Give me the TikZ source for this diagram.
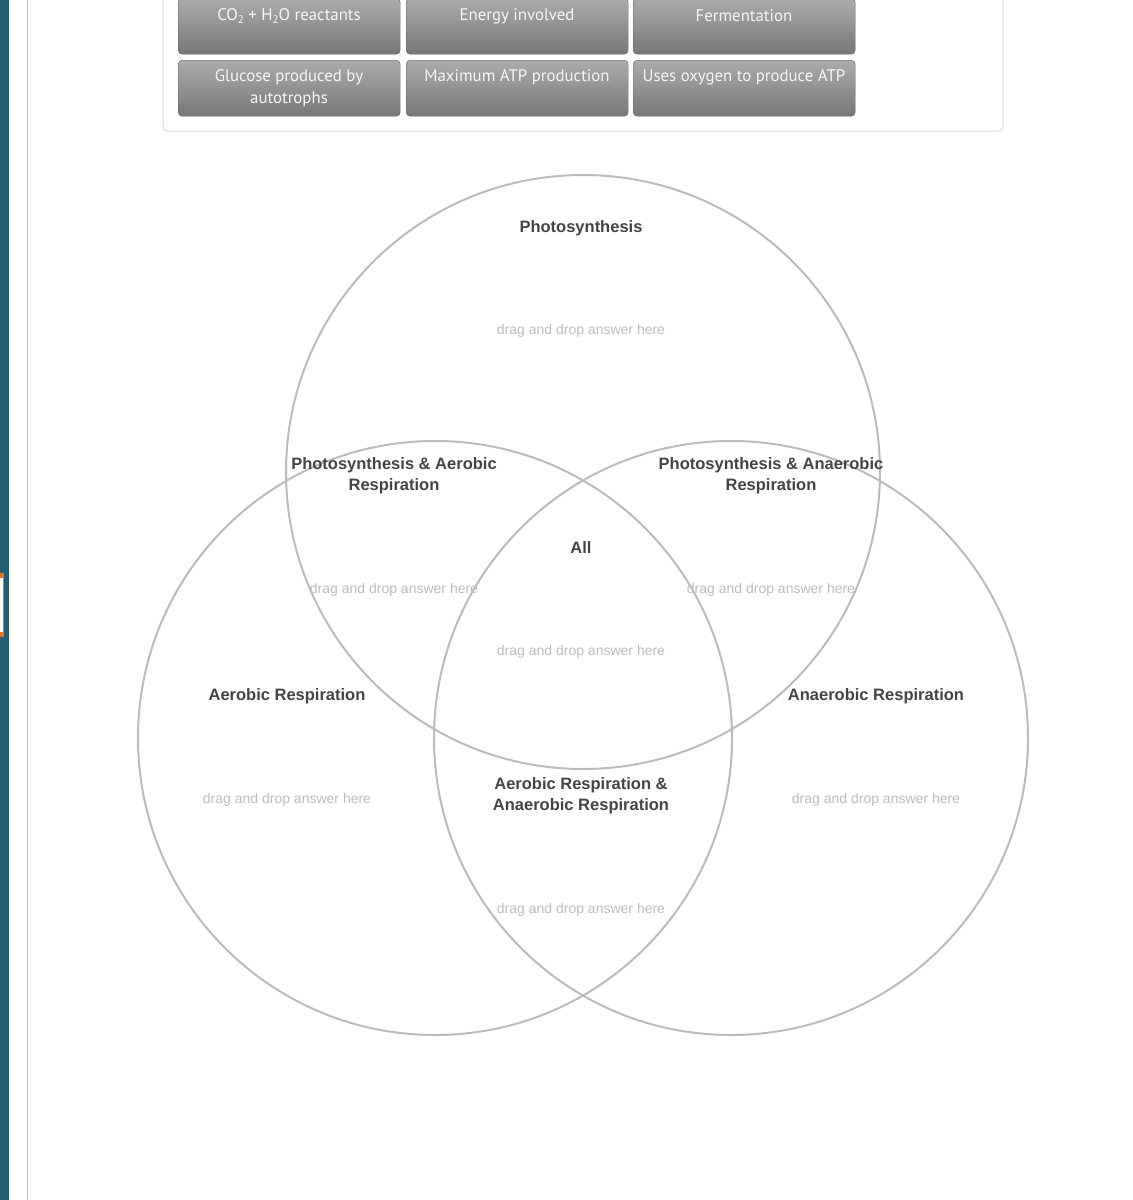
\documentclass[tikz,border=0pt]{standalone}
\usepackage{fontspec}
\setmainfont{Liberation Sans}
\newfontfamily\btnfont{PT Sans}
\newcommand{\mysub}[1]{\raisebox{-2.8pt}{\fontsize{11}{11}\selectfont #1}}
\definecolor{teal}{HTML}{255F6E}
\definecolor{orng}{HTML}{E8732A}
\definecolor{ring}{HTML}{BBBBBB}
\definecolor{lab}{HTML}{444444}
\definecolor{hint}{HTML}{BDBDBD}
\definecolor{btntop}{HTML}{ABABAB}
\definecolor{btnbot}{HTML}{777777}
\tikzset{
  venn/.style={circle, draw=ring, line width=2pt, minimum size=594pt, inner sep=0pt},
  title/.style={font=\fontsize{16.5}{21}\selectfont\bfseries, text=lab, align=center, inner sep=0pt},
  drop/.style={font=\fontsize{14}{16}\selectfont, text=hint, inner sep=0pt},
  btn/.style={rectangle, rounded corners=4pt, top color=btntop, bottom color=btnbot, draw=btnbot!80!black, line width=0.4pt, minimum width=222pt, minimum height=56pt, inner sep=0pt, anchor=north west},
  btntext/.style={font=\btnfont\fontsize{16.8}{22}\selectfont, text=white!94!gray, align=center, inner sep=0pt}
}
\begin{document}
\begin{tikzpicture}[x=1pt,y=-1pt]
\useasboundingbox (0,0) rectangle (1133,1200);
\fill[white] (0,0) rectangle (1133,1200);
% left page chrome
\fill[teal] (0,0) rectangle (9,1200);
\fill[orng] (0,573) rectangle (4,637);
\fill[white] (0,578) rectangle (3,632);
\draw[ring!90, line width=1.2pt] (27.5,0) -- (27.5,1200);
% container
\draw[gray!30, line width=1pt, rounded corners=4pt] (163,-20) rectangle (1003,131);
% buttons
\node[btn] (b1) at (178,-2) {};
\node[btn] (b2) at (406,-2) {};
\node[btn] (b3) at (633,-2) {};
\node[btn] (b4) at (178,60) {};
\node[btn] (b5) at (406,60) {};
\node[btn] (b6) at (633,60) {};
\node[btntext] (t1) at (289,16) {CO\mysub{2} + H\mysub{2}O reactants};
\node[btntext] (t2) at (517,16) {Energy involved};
\node[btntext] (t3) at (744,16) {Fermentation};
\node[btntext] (t4) at (289,88) {Glucose produced by\\autotrophs};
\node[btntext] (t5) at (517,77) {Maximum ATP production};
\node[btntext] (t6) at (744,77) {Uses oxygen to produce ATP};
% circles
\node[venn] (top) at (583,472) {};
\node[venn] (left) at (435,738) {};
\node[venn] (right) at (731,738) {};
% titles
\node[title] (tP) at (581,228) {Photosynthesis};
\node[title] (tPA) at (394,476) {Photosynthesis \& Aerobic\\Respiration};
\node[title] (tPN) at (771,476) {Photosynthesis \& Anaerobic\\Respiration};
\node[title] (tAll) at (581,548) {All};
\node[title] (tA) at (287,696) {Aerobic Respiration};
\node[title] (tN) at (876,696) {Anaerobic Respiration};
\node[title] (tAN) at (581,796) {Aerobic Respiration \&\\Anaerobic Respiration};
% drop zones
\node[drop] (d1) at (581,331) {drag and drop answer here};
\node[drop] (d2) at (394,590) {drag and drop answer here};
\node[drop] (d3) at (771,590) {drag and drop answer here};
\node[drop] (d4) at (581,652) {drag and drop answer here};
\node[drop] (d5) at (287,800) {drag and drop answer here};
\node[drop] (d6) at (876,800) {drag and drop answer here};
\node[drop] (d7) at (581,910) {drag and drop answer here};
\end{tikzpicture}
\end{document}
